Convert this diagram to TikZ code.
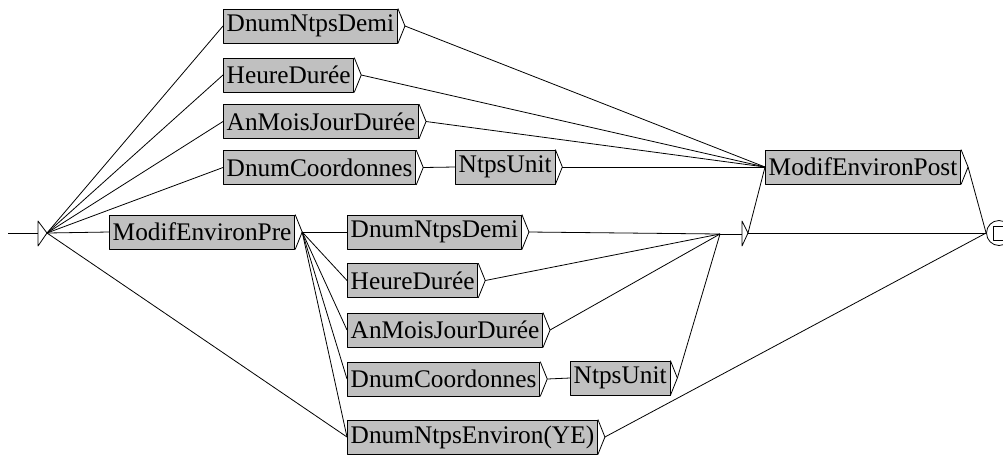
\documentclass[tikz,border=0pt]{standalone}
\usepackage{fontspec}
\setmainfont{Liberation Serif}
\definecolor{boxgrey}{RGB}{192,192,192}
\tikzset{
  ubox/.style={draw, fill=boxgrey, anchor=west, minimum height=25.5pt,
    inner xsep=2.5pt, inner ysep=0pt, font=\fontsize{19}{19}\selectfont},
}
\newcommand{\boxtip}[1]{\draw (#1.north east) -- ([xshift=5.25pt]#1.east) coordinate (#1-t) -- (#1.south east);}

\begin{document}
\begin{tikzpicture}[x=0.75pt,y=-0.75pt,line width=0.6pt,line join=round]
  \useasboundingbox (0,0) rectangle (1003,455);

  %Draw upper boxes
  \node[ubox] (tDemi)   at (223,26)    {DnumNtpsDemi};
  \node[ubox] (tHeure)  at (223,75)    {HeureDurée};
  \node[ubox] (tAnMois) at (223,121.5) {AnMoisJourDurée};
  \node[ubox] (tCoord)  at (223,167.5) {DnumCoordonnes};
  \node[ubox] (tUnit)   at (455,167)   {NtpsUnit};

  %Draw lower boxes
  \node[ubox] (pre)     at (109,232)   {ModifEnvironPre};
  \node[ubox] (bDemi)   at (347,232)   {DnumNtpsDemi};
  \node[ubox] (bHeure)  at (347,280.5) {HeureDurée};
  \node[ubox] (bAnMois) at (347,330)   {AnMoisJourDurée};
  \node[ubox] (bCoord)  at (347,379)   {DnumCoordonnes};
  \node[ubox] (bUnit)   at (570,378)   {NtpsUnit};
  \node[ubox] (bEnv)    at (347,437)   {DnumNtpsEnviron(YE)};

  %Draw post box
  \node[ubox] (post)    at (765,167)   {ModifEnvironPost};

  %Draw tips of the boxes
  \boxtip{tDemi} \boxtip{tHeure} \boxtip{tAnMois} \boxtip{tCoord} \boxtip{tUnit}
  \boxtip{pre} \boxtip{bDemi} \boxtip{bHeure} \boxtip{bAnMois} \boxtip{bCoord}
  \boxtip{bUnit} \boxtip{bEnv} \boxtip{post}

  %Draw initial state
  \coordinate (start) at (8,233) ;
  \draw[fill=white] (38,221) coordinate (init) -- (47,233) coordinate (init-t) -- (38,246) -- cycle ;
  \draw (start) -- (init |- start) ;

  %Draw empty box
  \draw[fill=white] (742,221) coordinate (eps) -- (748,233) coordinate (eps-t) -- (742,246) -- cycle ;
  \coordinate (join) at (720,234) ;

  %Draw final state
  \node[draw, circle, fill=white, minimum size=18.75pt, inner sep=0pt] (final) at (999,233) {} ;
  \node[draw, minimum size=10.5pt, inner sep=0pt] (finalsq) at (1000,233) {} ;

  %Draw paths from initial state
  \draw (init-t) -- (tDemi.west) ;
  \draw (init-t) -- (tHeure.west) ;
  \draw (init-t) -- (tAnMois.west) ;
  \draw (init-t) -- (tCoord.west) ;
  \draw (init-t) -- (pre.west) ;
  \draw (init-t) -- (bEnv.west) ;

  %Draw upper paths
  \draw (tCoord-t) -- (tUnit.west) ;
  \draw (tDemi-t) -- (post.west) ;
  \draw (tHeure-t) -- (post.west) ;
  \draw (tAnMois-t) -- (post.west) ;
  \draw (tUnit-t) -- (post.west) ;

  %Draw lower paths
  \draw (pre-t) -- (bDemi.west) ;
  \draw (pre-t) -- (bHeure.west) ;
  \draw (pre-t) -- (bAnMois.west) ;
  \draw (pre-t) -- (bCoord.west) ;
  \draw (pre-t) -- (bEnv.west) ;
  \draw (bCoord-t) -- (bUnit.west) ;
  \draw (bDemi-t) -- (join) ;
  \draw (bHeure-t) -- (join) ;
  \draw (bAnMois-t) -- (join) ;
  \draw (bUnit-t) -- (join) ;
  \draw (join) -- (eps |- join) ;

  %Draw paths to final state
  \draw (eps-t) -- (post.west) ;
  \draw (eps-t) -- (final.west) ;
  \draw (post-t) -- (final.west) ;
  \draw (bEnv-t) -- (final.west) ;
\end{tikzpicture}
\end{document}
